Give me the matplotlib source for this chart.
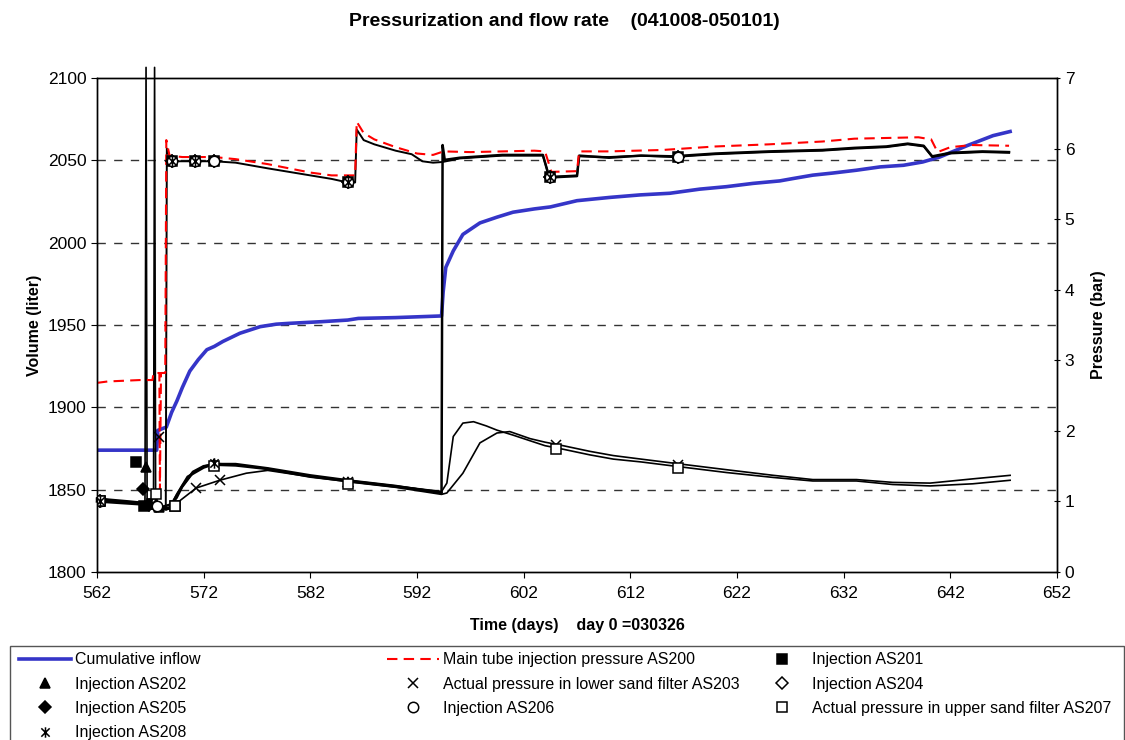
import numpy as np
import matplotlib
matplotlib.use("Agg")
import matplotlib.pyplot as plt
from matplotlib.path import Path
from matplotlib.patches import Rectangle

plt.rcParams['font.family'] = ['Liberation Sans', 'DejaVu Sans']

# cumulative inflow (left axis, liter)
inflow_days = [562, 567.6, 567.7, 568.5, 569.0, 569.5, 570.0, 570.7, 571.5, 572.3, 573.0, 573.8,
               575.4, 577.3, 578.8, 580, 583, 585.5, 586.5, 590, 594.3, 594.45, 594.7, 595.4,
               596.3, 597.9, 599.5, 601, 603, 604.5, 607, 610.1, 612.9, 615.7, 618.5, 621, 623.5,
               626, 627.3, 629.1, 631, 633.2, 635.4, 637.6, 639.4, 641, 643.6, 646, 647.6]
inflow_vol = [1874, 1874, 1886, 1888, 1897, 1904, 1912, 1922, 1929, 1935, 1937, 1940,
              1945, 1949, 1950.5, 1951, 1952, 1953, 1954, 1954.5, 1955.5, 1970, 1985, 1995,
              2005, 2012, 2015.5, 2018.5, 2020.5, 2021.7, 2025.5, 2027.5, 2029, 2030, 2032.5, 2034, 2036,
              2037.5, 2039, 2041, 2042.3, 2044, 2046, 2047, 2049, 2052, 2059, 2065, 2067.5]

# main tube injection pressure AS200 (right axis, bar)
as200_days = [562, 563, 566, 567.2, 567.3, 567.85, 567.9, 568.0, 568.4, 568.5, 568.8, 570, 573,
              575, 578, 580, 582, 584, 586.2, 586.35, 587, 588, 590, 592, 593.5, 594.5, 597,
              600, 603, 604, 604.6, 607, 607.2, 610, 615, 620, 625, 630, 633, 636, 639, 640.2,
              640.8, 642, 644, 647.5]
as200_p = [2.68, 2.70, 2.72, 2.72, 2.82, 2.82, 1.15, 2.82, 2.82, 6.12, 5.90, 5.88, 5.88,
           5.85, 5.78, 5.72, 5.66, 5.62, 5.62, 6.38, 6.22, 6.13, 6.02, 5.93, 5.91, 5.96, 5.95,
           5.96, 5.97, 5.96, 5.67, 5.68, 5.96, 5.96, 5.98, 6.03, 6.06, 6.10, 6.14, 6.15, 6.16, 6.13,
           5.95, 6.02, 6.05, 6.04]

# logger pressure curves (black lines, no legend entry)
upper_a_days = [562, 565, 567, 568.3, 568.45, 568.55, 569, 571, 573, 575, 578, 580, 582, 584,
                585.5, 586.2, 586.35, 587, 588, 590, 591.5, 592.5, 593.5, 594.4, 596, 598, 600,
                603, 603.8, 604.4, 607, 607.2, 610, 613, 616, 620, 625, 630, 633, 636, 638,
                639.5, 640.3, 642, 645, 647.5]
upper_a_p = [1.02, 0.98, 0.96, 0.92, 0.92, 6.0, 5.82, 5.82, 5.82, 5.80, 5.72, 5.67, 5.62, 5.57,
             5.52, 5.52, 6.27, 6.12, 6.06, 5.97, 5.92, 5.82, 5.80, 5.81, 5.86, 5.88, 5.90,
             5.90, 5.90, 5.60, 5.62, 5.89, 5.88, 5.90, 5.88, 5.92, 5.95, 5.97, 6.00, 6.02, 6.06,
             6.03, 5.88, 5.93, 5.95, 5.94]

upper_b_days = [562, 565, 567, 568, 569, 570, 571, 572, 573, 575, 578, 582, 586, 590, 594.3,
                594.4, 594.6, 596, 598, 600, 603.8, 604.4, 607, 607.2, 610, 613, 616, 620, 625,
                630, 633, 636, 638, 639.5, 640.3, 642, 645, 647.5]
upper_b_p = [1.04, 1.00, 0.97, 0.92, 0.96, 1.22, 1.42, 1.50, 1.52, 1.51, 1.46, 1.35, 1.28, 1.21, 1.13,
             6.05, 5.84, 5.87, 5.89, 5.91, 5.91, 5.59, 5.61, 5.90, 5.87, 5.90, 5.89, 5.93, 5.96,
             5.98, 6.01, 6.03, 6.07, 6.04, 5.89, 5.94, 5.96, 5.95]

lower_a_days = [562, 564, 566.5, 566.6, 566.7, 568, 568.8, 569.5, 570, 571, 572, 573, 575, 578,
                582, 586, 590, 594.3, 594.8, 595.4, 596.3, 597.3, 598.5, 599.5, 601, 602.6, 604,
                605.7, 608.2, 610.4, 613, 616.7, 621, 625.4, 629.1, 633.2, 636.6, 640.1, 644.1, 647.6]
lower_a_p = [1.05, 1.00, 0.98, 7.15, 0.96, 0.90, 0.92, 1.05, 1.20, 1.40, 1.50, 1.54, 1.52, 1.46,
             1.36, 1.29, 1.22, 1.14, 1.26, 1.92, 2.11, 2.13, 2.07, 2.01, 1.94, 1.86, 1.79,
             1.74, 1.66, 1.60, 1.56, 1.49, 1.41, 1.34, 1.29, 1.29, 1.24, 1.22, 1.25, 1.30]

lower_b_days = [562, 564, 567.3, 567.4, 567.5, 568.5, 569, 571.3, 573.5, 576, 578, 582, 586, 590,
                594.3, 594.8, 596.3, 597.9, 599.5, 600.7, 602.6, 604, 605.7, 608.2, 610.4, 613,
                616.7, 621, 625.4, 629.1, 633.2, 636.6, 640.1, 644.1, 647.6]
lower_b_p = [1.03, 0.99, 0.95, 7.15, 0.93, 0.88, 0.92, 1.19, 1.30, 1.40, 1.44, 1.35, 1.27, 1.20,
             1.10, 1.12, 1.40, 1.83, 1.97, 1.99, 1.89, 1.84, 1.79, 1.71, 1.65, 1.60,
             1.53, 1.45, 1.37, 1.31, 1.31, 1.27, 1.26, 1.32, 1.37]

bundle_days = [562, 565, 567, 568, 568.8, 569.5, 570.5, 572, 573, 575, 578, 582, 586, 590, 594.3]
bundle_p = [1.00, 0.97, 0.95, 0.88, 0.90, 1.10, 1.35, 1.48, 1.53, 1.53, 1.47, 1.37, 1.29, 1.22, 1.12]

# manual readings (markers only)
as201_days = [562.3, 565.7, 566.4, 567.2, 569.0, 569.3, 571.2, 573.0, 585.5, 604.5, 616.5]
as201_p = [1.00, 1.56, 0.93, 0.96, 5.83, 0.93, 5.82, 5.82, 5.52, 5.60, 5.88]
as202_days = [562.3, 566.6, 567.0, 567.8, 573.0, 585.5]
as202_p = [1.00, 1.49, 0.96, 0.92, 1.53, 1.27]
as203_days = [562.3, 567.8, 571.3, 573.5, 585.5, 605.0, 616.5]
as203_p = [1.00, 1.92, 1.19, 1.30, 1.27, 1.80, 1.51]
as204_days = [562.3, 567.3, 569.0, 571.2, 573.0, 585.5, 604.5, 616.5]
as204_p = [1.00, 0.97, 5.83, 5.82, 5.82, 5.52, 5.60, 5.88]
as205_days = [562.3, 566.3, 566.9, 567.5, 569.0, 571.2, 573.0, 585.5, 604.5, 616.5]
as205_p = [1.00, 1.17, 0.95, 0.93, 5.83, 5.82, 5.82, 5.52, 5.60, 5.88]
as206_days = [562.3, 567.6, 569.0, 571.2, 573.0, 585.5, 604.5, 616.5]
as206_p = [1.00, 0.94, 5.83, 5.82, 5.82, 5.52, 5.60, 5.88]
as207_days = [562.3, 567.5, 569.3, 573.0, 585.5, 605.0, 616.5]
as207_p = [1.00, 1.10, 0.93, 1.50, 1.25, 1.75, 1.48]
as208_days = [562.3, 566.8, 569.0, 571.2, 573.0, 585.5, 604.5]
as208_p = [1.00, 0.97, 5.83, 5.82, 1.55, 5.52, 5.60]

star = Path([(0, -1), (0, 1), (-0.8, -0.8), (0.8, 0.8), (-0.8, 0.8), (0.8, -0.8)],
            [Path.MOVETO, Path.LINETO, Path.MOVETO, Path.LINETO, Path.MOVETO, Path.LINETO])

fig = plt.figure(figsize=(11.25, 7.4), dpi=100)
ax = fig.add_axes([0.0862, 0.2270, 0.8534, 0.6676])
ax2 = ax.twinx()

ax.set_xlim(562, 652)
ax.set_ylim(1800, 2100)
ax2.set_ylim(0, 7)
ax.set_xticks(np.arange(562, 653, 10))
ax.set_yticks(np.arange(1800, 2101, 50))
ax2.set_yticks(np.arange(0, 8, 1))
for y in range(1850, 2100, 50):
    ax.axhline(y, color='#333333', lw=1, dashes=(6, 6), zorder=0)

ax.tick_params(labelsize=12.5, length=4, direction='out')
ax.tick_params(axis='x', pad=6)
ax2.tick_params(labelsize=12.5, length=4, direction='inout')
for a in (ax, ax2):
    for s in a.spines.values():
        s.set_linewidth(1)

ln_inflow, = ax.plot(inflow_days, inflow_vol, color='#3535C8', lw=2.6)

for d, p, w in [(upper_a_days, upper_a_p, 1.4), (upper_b_days, upper_b_p, 1.8),
                (lower_a_days, lower_a_p, 1.2), (lower_b_days, lower_b_p, 1.2),
                (bundle_days, bundle_p, 1.8)]:
    ax2.plot(d, p, color='black', lw=w, clip_on=False)

ln_as200, = ax2.plot(as200_days, as200_p, color='#FF0000', lw=1.5, dashes=(5, 3))

mk = dict(ls='none', ms=7.5, mec='black', mew=1.1)
m201, = ax2.plot(as201_days, as201_p, marker='s', mfc='black', **mk)
m202, = ax2.plot(as202_days, as202_p, marker='^', mfc='black', **mk)
m203, = ax2.plot(as203_days, as203_p, marker='x', mfc='black', **mk)
m204, = ax2.plot(as204_days, as204_p, marker='D', mfc='white', **dict(mk, ms=6))
m205, = ax2.plot(as205_days, as205_p, marker='D', mfc='black', **dict(mk, ms=6))
m206, = ax2.plot(as206_days, as206_p, marker='o', mfc='white', **mk)
m207, = ax2.plot(as207_days, as207_p, marker='s', mfc='white', **mk)
m208, = ax2.plot(as208_days, as208_p, marker=star, mfc='black', **mk)

fig.text(0.502, 0.971, 'Pressurization and flow rate    (041008-050101)', ha='center', va='center',
         fontsize=14, fontweight='bold')
ax.set_xlabel('Time (days)    day 0 =030326', fontsize=11.5, fontweight='bold', labelpad=12)
ax.set_ylabel('Volume (liter)', fontsize=11.5, fontweight='bold', labelpad=4)
ax2.set_ylabel('Pressure (bar)', fontsize=11.5, fontweight='bold', labelpad=12)

# legend: three single-column legends inside one box
fig.patches.append(Rectangle((0.009, -0.05), 0.99, 0.177, transform=fig.transFigure,
                             fill=False, edgecolor='#555555', lw=1))
leg_kw = dict(loc='upper left', frameon=False, fontsize=11.5, handlelength=3.3,
              handletextpad=0.25, labelspacing=0.58, borderaxespad=0)
cols = [
    ([ln_inflow, m202, m205, m208],
     ['Cumulative inflow', 'Injection AS202', 'Injection AS205', 'Injection AS208'], 0.011),
    ([ln_as200, m203, m206],
     ['Main tube injection pressure AS200', 'Actual pressure in lower sand filter AS203',
      'Injection AS206'], 0.338),
    ([m201, m204, m207],
     ['Injection AS201', 'Injection AS204', 'Actual pressure in upper sand filter AS207'], 0.666),
]
for handles, labels, x0 in cols:
    fig.legend(handles, labels, bbox_to_anchor=(x0, 0.127), **leg_kw)

fig.savefig('out.png', dpi=100)
